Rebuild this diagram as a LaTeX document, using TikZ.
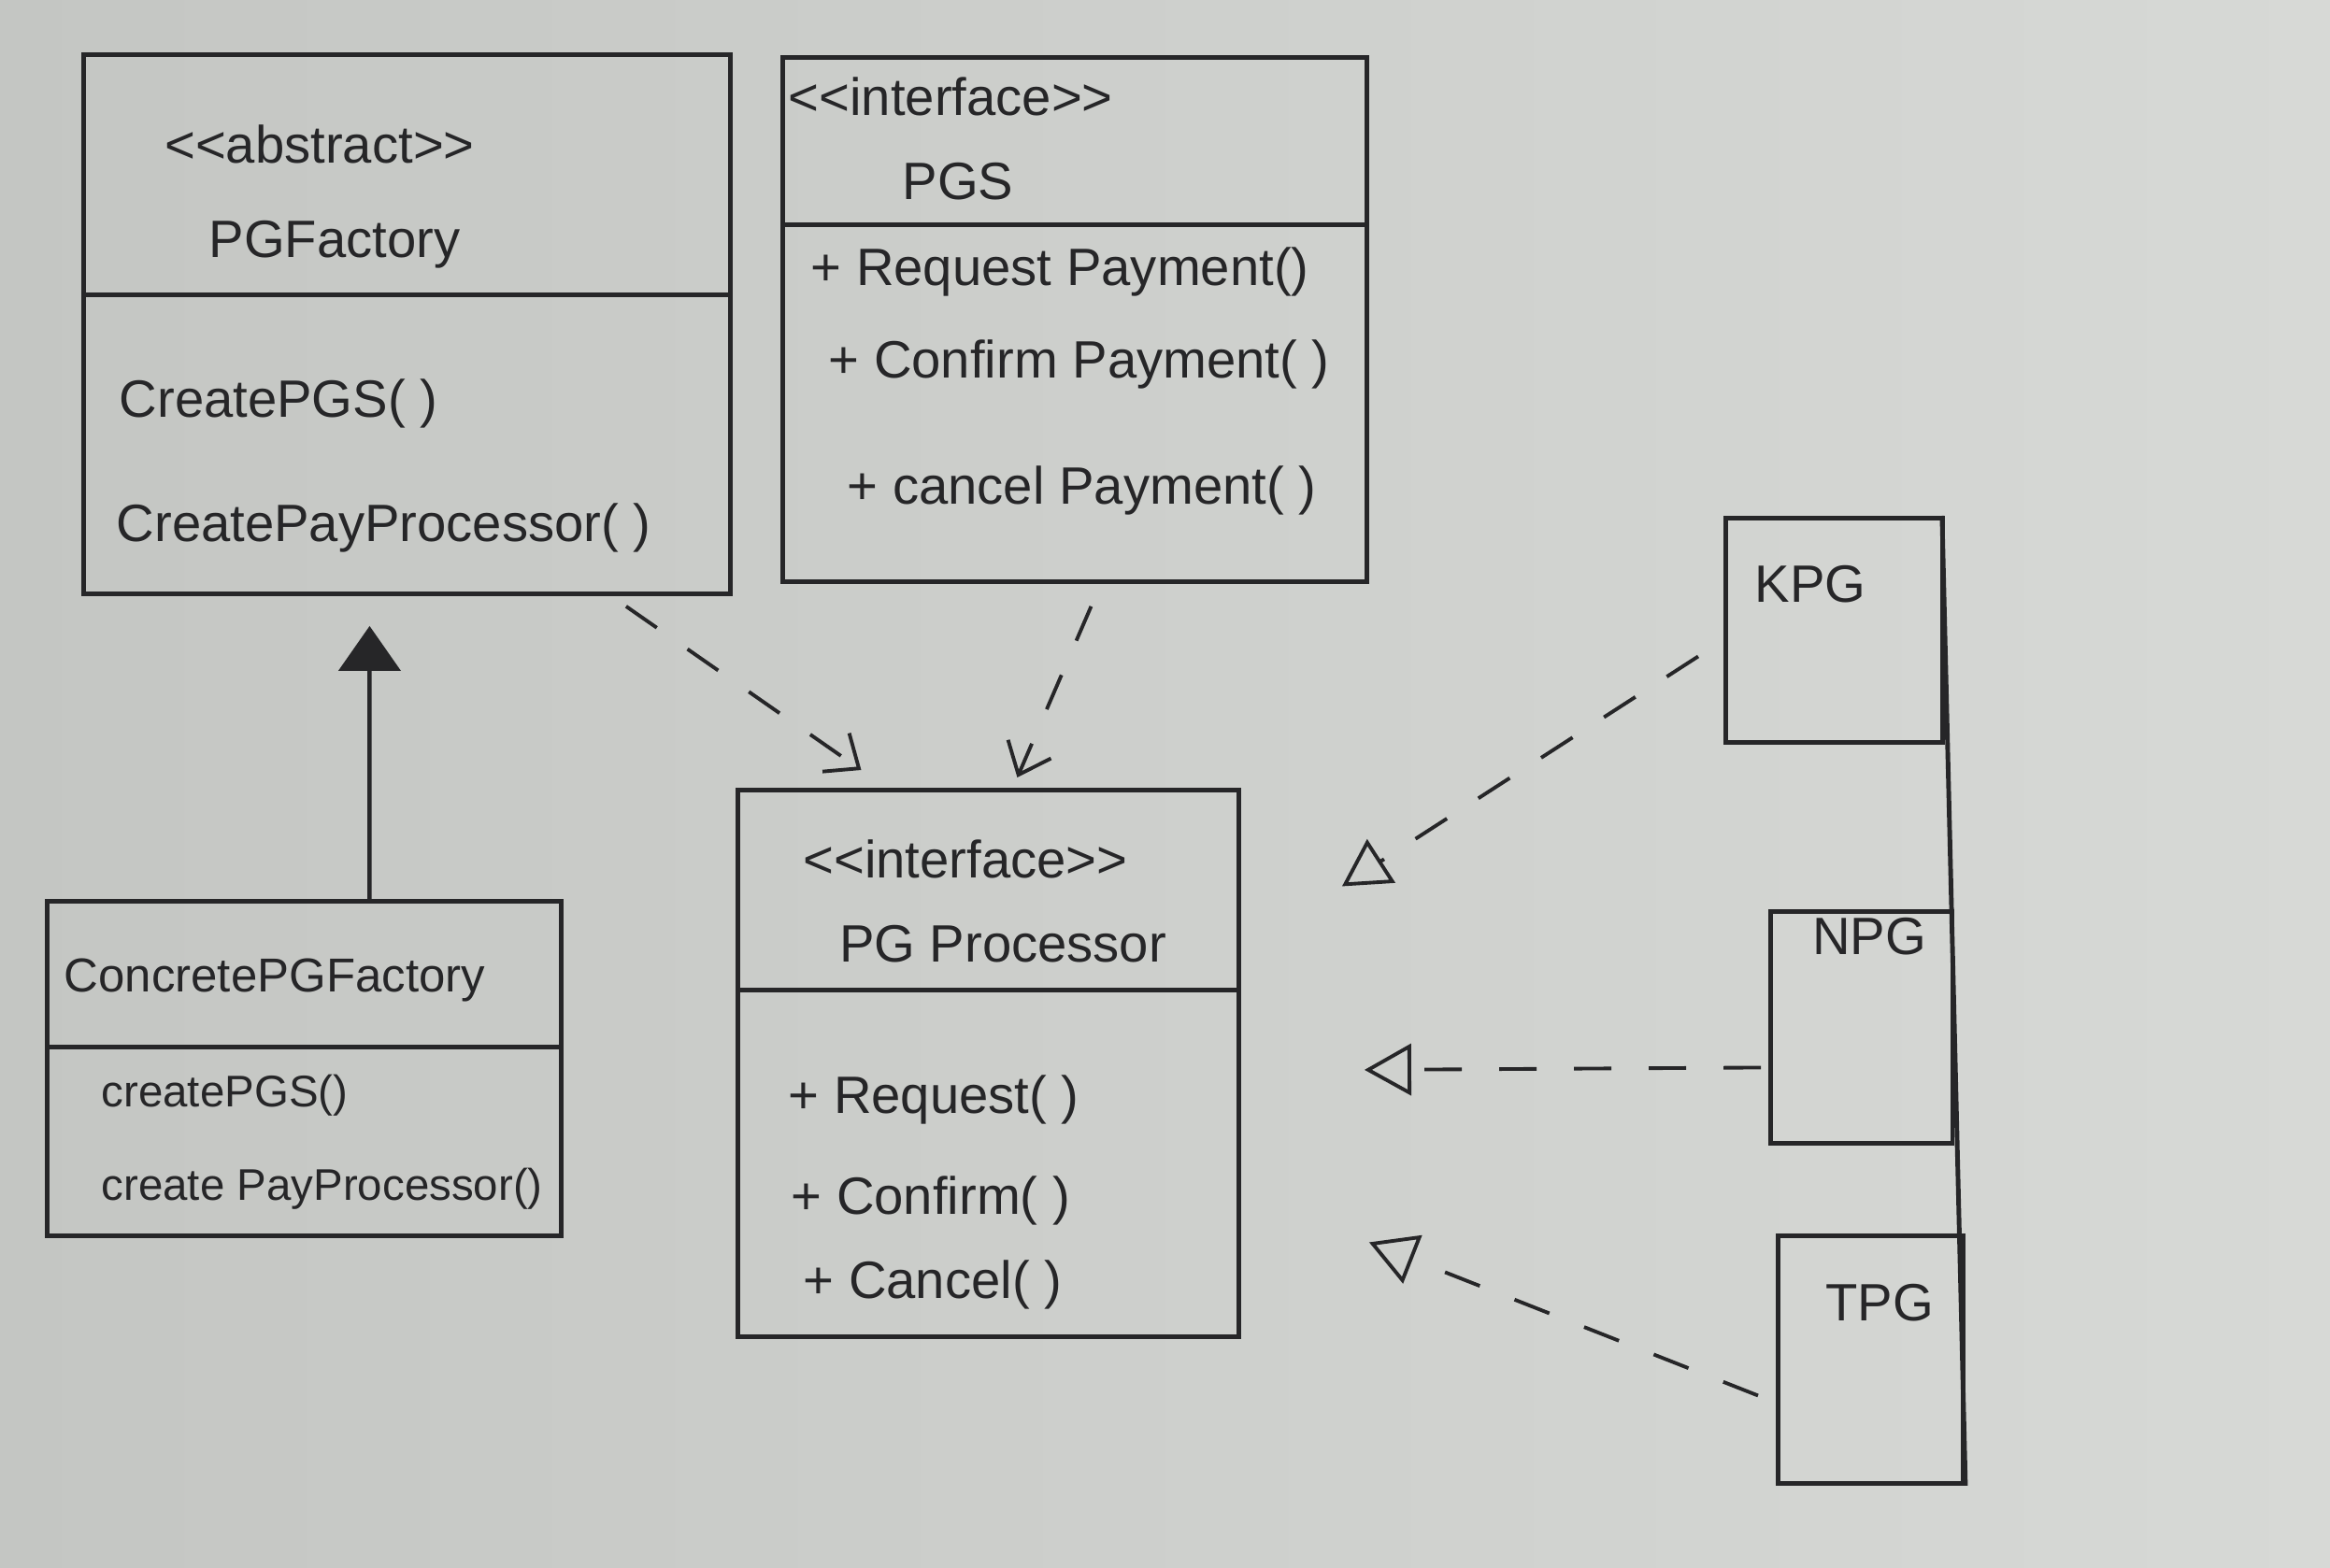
\documentclass[tikz,border=0pt]{standalone}
\usepackage{fontspec}
\setmainfont{Liberation Sans}
\usepackage{tikz}
\usetikzlibrary{arrows.meta}
\definecolor{ink}{RGB}{38,38,40}
\definecolor{paperl}{RGB}{196,198,195}
\definecolor{paperr}{RGB}{215,217,214}

\begin{document}
\begin{tikzpicture}
\tikzset{kuang/.style={draw=ink, line width=1.4pt, rectangle, anchor=north west, inner sep=0pt}}
\tikzset{zi/.style={text=ink, inner sep=0pt, font=\fontsize{16}{19}\selectfont}}
\tikzset{zuo/.style={zi, anchor=west}}
\tikzset{jicheng/.style={draw=ink, line width=1.3pt, -{Triangle[length=4.8mm,width=6.6mm]}}}
\tikzset{yilai/.style={draw=ink, line width=1.1pt, dash pattern=on 4mm off 4mm,
  -{Straight Barb[length=3mm,width=5mm]}}}
\tikzset{shixian/.style={draw=ink, line width=1.1pt, dash pattern=on 4mm off 4mm,
  -{Triangle[open,length=5mm,width=5.5mm]}}}

\shade[left color=paperl, right color=paperr] (0,0) rectangle (24.93,-16.78);
\useasboundingbox (0,0) rectangle (24.93,-16.78);

% PGFactory
\node[kuang, minimum width=6.92cm, minimum height=2.57cm](pgfh)at(0.87,-0.56){};
\node[kuang, minimum width=6.92cm, minimum height=3.20cm](pgfb)at(0.87,-3.13){};
\node[zi](pgf1)at(3.42,-1.54){<{}<abstract>{}>};
\node[zi](pgf2)at(3.58,-2.62){PGFactory};
\node[zuo](pgf3)at(1.27,-4.32){CreatePGS( )};
\node[zuo](pgf4)at(1.24,-5.65){CreatePayProcessor( )};

% PGS
\node[kuang, minimum width=6.25cm, minimum height=1.79cm](pgsh)at(8.35,-0.59){};
\node[kuang, minimum width=6.25cm, minimum height=3.82cm](pgsb)at(8.35,-2.38){};
\node[zuo](pgs1)at(8.43,-1.03){<{}<interface>{}>};
\node[zi](pgs2)at(10.25,-1.94){PGS};
\node[zuo](pgs3)at(8.67,-2.91){+ Request Payment()};
\node[zuo](pgs4)at(8.86,-3.90){+ Confirm Payment( )};
\node[zuo](pgs5)at(9.06,-5.25){+ cancel Payment( )};

% PG Processor
\node[kuang, minimum width=5.36cm, minimum height=2.14cm](pgph)at(7.87,-8.43){};
\node[kuang, minimum width=5.36cm, minimum height=3.71cm](pgpb)at(7.87,-10.57){};
\node[zi](pgp1)at(10.33,-9.19){<{}<interface>{}>};
\node[zi](pgp2)at(10.73,-10.10){PG Processor};
\node[zuo](pgp3)at(8.43,-11.77){+ Request( )};
\node[zuo](pgp4)at(8.46,-12.85){+ Confirm( )};
\node[zuo](pgp5)at(8.59,-13.75){+ Cancel( )};

% ConcretePGFactory
\node[kuang, minimum width=5.50cm, minimum height=1.56cm](cpfh)at(0.48,-9.62){};
\node[kuang, minimum width=5.50cm, minimum height=2.02cm](cpfb)at(0.48,-11.18){};
\node[zuo, font=\fontsize{14.5}{17}\selectfont](cpf1)at(0.68,-10.49){ConcretePGFactory};
\node[zuo, font=\fontsize{13.5}{16}\selectfont](cpf2)at(1.08,-11.72){createPGS()};
\node[zuo, font=\fontsize{13.5}{16}\selectfont](cpf3)at(1.08,-12.72){create PayProcessor()};

% KPG, NPG, TPG
\node[kuang, minimum width=2.32cm, minimum height=2.40cm](kpg)at(18.44,-5.52){};
\node[kuang, minimum width=1.945cm, minimum height=2.48cm](npg)at(18.92,-9.73){};
\node[kuang, minimum width=1.98cm, minimum height=2.65cm](tpg)at(19.00,-13.20){};
\node[zi](kpg1)at(19.37,-6.25){KPG};
\node[zi](npg1)at(20.00,-10.02){NPG};
\node[zi](tpg1)at(20.11,-13.94){TPG};
\draw[draw=ink, line width=1.4pt] ([xshift=-0.3mm]kpg.north east) -- (tpg.south east);

\path[jicheng] ([xshift=7mm]cpfh.north) -- ([xshift=-4mm,yshift=-3.2mm]pgfb.south);
\path[yilai] ([xshift=-11.4mm,yshift=-1.1mm]pgfb.south east) -- ([xshift=-13.6mm,yshift=1.9mm]pgph.north);
\path[yilai] ([xshift=1.75mm,yshift=-2.4mm]pgsb.south) -- ([xshift=3.1mm,yshift=1.1mm]pgph.north);
\path[shixian] ([shift={(-0.27,-0.28)}]kpg.west) -- ([shift={(1.08,0.04)}]pgph.east);
\path[shixian] ([shift={(-0.08,-0.43)}]npg.west) -- ([shift={(1.32,-0.83)}]pgph.south east);
\path[shixian] ([shift={(-0.19,-0.385)}]tpg.west) -- ([shift={(1.37,-0.845)}]pgpb.east);
\end{tikzpicture}
\end{document}
